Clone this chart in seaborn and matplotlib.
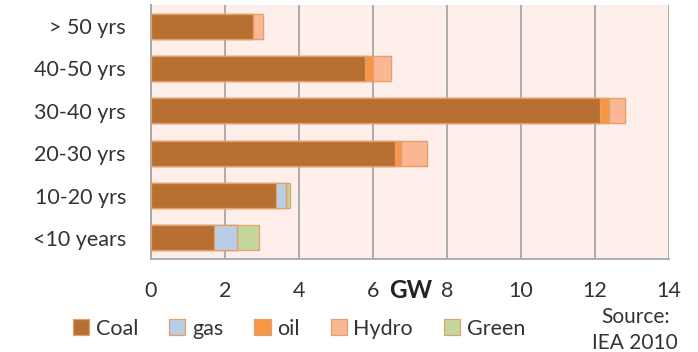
import matplotlib
matplotlib.use("Agg")
import matplotlib.pyplot as plt
from matplotlib.patches import Patch
from matplotlib.transforms import blended_transform_factory
import seaborn as sns
import pandas as pd
import numpy as np

# Installed capacity by plant age (GW)
ages = ["> 50 yrs", "40-50 yrs", "30-40 yrs", "20-30 yrs", "10-20 yrs", "<10 years"]
coal = [2.77, 5.78, 12.13, 6.60, 3.37, 1.69]
gas = [0.00, 0.00, 0.00, 0.00, 0.27, 0.63]
oil = [0.00, 0.22, 0.24, 0.16, 0.02, 0.00]
hydro = [0.26, 0.49, 0.44, 0.69, 0.00, 0.00]
green = [0.00, 0.00, 0.00, 0.00, 0.10, 0.60]

fuels = ["Coal", "gas", "oil", "Hydro", "Green"]
colors = {"Coal": "#B87032", "gas": "#B9CDE5", "oil": "#F79646",
          "Hydro": "#FBB694", "Green": "#C4D79B"}
edge = "#E2A06C"

df = pd.DataFrame({"age": ages, "Coal": coal, "gas": gas, "oil": oil,
                   "Hydro": hydro, "Green": green})
cum = df[fuels].cumsum(axis=1)
cum["age"] = df["age"]

sns.set_theme(style="white")
plt.rcParams["font.family"] = ["Lato", "DejaVu Sans"]

fig = plt.figure(figsize=(6.98, 3.52), dpi=100)
ax = fig.add_axes([0.2163, 0.2642, 0.7422, 0.7216])
ax.set_facecolor("#FDEEE9")

# Stacked bars: draw cumulative totals from the outermost segment inward
for fuel in reversed(fuels):
    sns.barplot(data=cum, x=fuel, y="age", order=ages, orient="h",
                color=colors[fuel], saturation=1, width=0.59,
                edgecolor=edge, linewidth=0.9, ax=ax, zorder=3)

ax.set_xlim(0, 14)
ax.set_xticks(np.arange(0, 15, 2))
ax.set_xlabel("")
ax.set_ylabel("")
ax.grid(axis="x", color="#A6A6A6", linewidth=1.3, zorder=0)
ax.set_axisbelow(True)
for s in ["top", "right"]:
    ax.spines[s].set_visible(False)
for s in ["left", "bottom"]:
    ax.spines[s].set_color("#A6A6A6")
    ax.spines[s].set_linewidth(1.3)
ax.tick_params(axis="x", length=0, pad=16, labelsize=15.5, colors="#333333")
ax.tick_params(axis="y", length=0, pad=18, labelsize=15.5, colors="#333333")

trans = blended_transform_factory(ax.transData, ax.transAxes)
ax.text(7.03, -0.125, "GW", transform=trans, ha="center", va="center",
        fontsize=17.5, fontweight="bold", color="#222222")

handles = [Patch(facecolor=colors[f], edgecolor=edge, linewidth=0.9, label=f)
           for f in fuels]
fig.legend(handles=handles, loc="center left", bbox_to_anchor=(0.077, 0.066),
           ncol=5, frameon=False, fontsize=15.5, handlelength=0.75,
           handleheight=0.75, handletextpad=0.3, columnspacing=1.45,
           labelcolor="#333333")

fig.text(0.91, 0.062, "Source:\nIEA 2010", ha="center", va="center",
         fontsize=15, color="#333333", linespacing=1.35)

fig.savefig("out.png", dpi=100)
